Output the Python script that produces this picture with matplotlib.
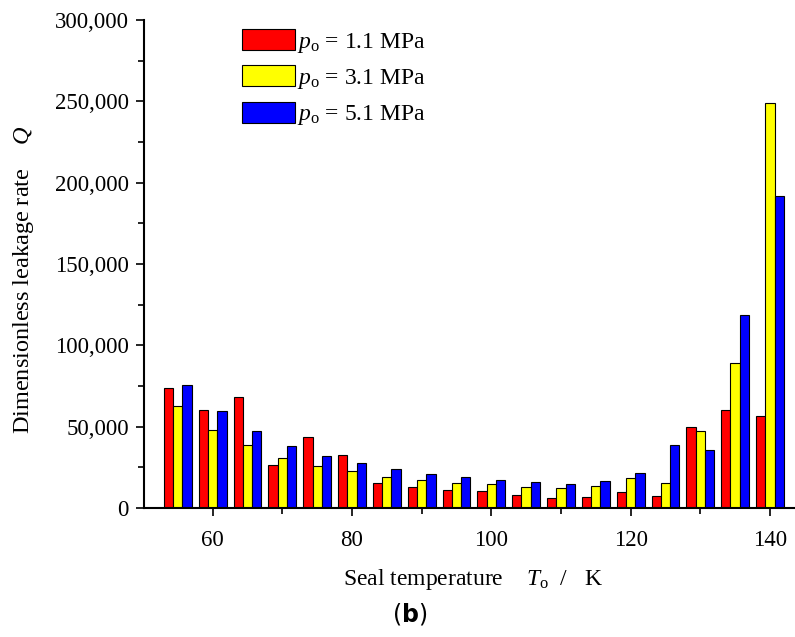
import matplotlib
matplotlib.use("Agg")
import matplotlib.pyplot as plt
from matplotlib.ticker import MultipleLocator, FuncFormatter
import numpy as np

# seal temperatures (K) and leakage rates for the three seal pressures
temps = [55, 60, 65, 70, 75, 80, 85, 90, 95, 100, 105, 110, 115, 120, 125, 130, 135, 140]
q_1_1 = [74000, 60000, 68000, 26500, 43500, 32500, 15300, 13200, 11300,
         10600, 8100, 6000, 6700, 9600, 7300, 49600, 60200, 56500]
q_3_1 = [63000, 48200, 38900, 31000, 26000, 22800, 19300, 17100, 15600,
         14600, 13100, 12300, 13700, 18500, 15200, 47100, 89000, 249000]
q_5_1 = [75900, 59500, 47100, 38000, 31700, 27400, 24000, 21000, 19000,
         17500, 16000, 15000, 16400, 21600, 39000, 35600, 118400, 192000]
labels = [r"$p_\mathrm{o}$ = 1.1 MPa", r"$p_\mathrm{o}$ = 3.1 MPa", r"$p_\mathrm{o}$ = 5.1 MPa"]
colors = ["#ff0000", "#ffff00", "#0000ff"]

plt.rcParams["font.family"] = "Liberation Serif"
plt.rcParams["mathtext.fontset"] = "custom"
plt.rcParams["mathtext.rm"] = "Liberation Serif"
plt.rcParams["mathtext.it"] = "Liberation Serif:italic"
plt.rcParams["mathtext.bf"] = "DejaVu Sans:bold"

fig = plt.figure(figsize=(7.95, 6.37), dpi=100)
ax = fig.add_axes([0.1811, 0.2025, 0.8189, 0.7661])

x = np.array(temps, dtype=float)
w = 1.33
for i, (vals, c, lab) in enumerate(zip([q_1_1, q_3_1, q_5_1], colors, labels)):
    ax.bar(x + (i - 1) * w, vals, width=w, color=c, edgecolor="black",
           linewidth=0.8, label=lab)

ax.set_xlim(50.14, 143.6)
ax.set_ylim(0, 300000)
ax.xaxis.set_major_locator(MultipleLocator(20))
ax.xaxis.set_minor_locator(MultipleLocator(10))
ax.yaxis.set_major_locator(MultipleLocator(50000))
ax.yaxis.set_minor_locator(MultipleLocator(25000))
ax.yaxis.set_major_formatter(FuncFormatter(lambda v, p: f"{v:,.0f}"))

for s in ["top", "right"]:
    ax.spines[s].set_visible(False)
for s in ["left", "bottom"]:
    ax.spines[s].set_linewidth(1.5)

ax.tick_params(which="major", direction="out", length=6, width=1.2,
               labelsize=16.5, pad=5)
ax.tick_params(axis="x", which="major", pad=10)
ax.tick_params(which="minor", direction="out", length=4, width=1.2)

ax.set_xlabel(r"Seal temperature    $T_\mathrm{o}$  /   K", fontsize=17)
ax.xaxis.set_label_coords((473 - 144) / 651, -(567 - 508) / 488)
ax.set_ylabel(r"Dimensionless leakage rate    $Q$", fontsize=17.5)
ax.yaxis.set_label_coords(-(144 - 36) / 651, (508 - 280) / 488)

ax.legend(loc="upper left", bbox_to_anchor=(242 / 795, 1 - 29 / 637),
          bbox_transform=fig.transFigure, frameon=False, fontsize=17,
          borderpad=0, borderaxespad=0, handlelength=2.25, handleheight=1.0,
          handletextpad=0.08, labelspacing=0.45)

fig.text(410 / 795, 1 - 614 / 637, r"($\mathbf{b}$)", fontsize=17,
         family="DejaVu Sans", ha="center", va="center")

fig.savefig("out.png", dpi=100)
